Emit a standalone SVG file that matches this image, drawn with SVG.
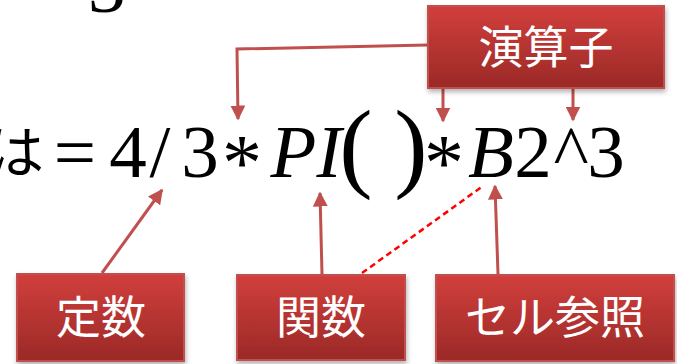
<svg xmlns="http://www.w3.org/2000/svg" width="677" height="364" viewBox="0 0 677 364">
<style>
.f{font-family:'Liberation Serif','Times New Roman',Times,serif;fill:#000;}
.i{font-style:italic;}
.lbl{font-family:'Noto Sans CJK JP','Noto Sans CJK SC',sans-serif;font-size:45px;fill:#fff;text-anchor:middle;}
.box{fill:url(#g);stroke:#c0504d;stroke-width:2;filter:url(#sh);}
.cn{fill:none;stroke:#c0504d;stroke-width:3;}
.dash{fill:none;stroke:#ff0000;stroke-width:2.5;stroke-dasharray:6 4;}
</style>
<defs>
<linearGradient id="g" x1="0" y1="0" x2="0" y2="1">
<stop offset="0" stop-color="#d13f3c"/>
<stop offset="1" stop-color="#9b2927"/>
</linearGradient>
<filter id="sh" x="-10%" y="-10%" width="125%" height="130%">
<feDropShadow dx="1" dy="3" stdDeviation="2.5" flood-color="#000" flood-opacity="0.3"/>
</filter>
<marker id="ah" viewBox="0 0 10 10" refX="9" refY="5" markerWidth="5" markerHeight="5" markerUnits="strokeWidth" orient="auto">
<path d="M0,0 L10,5 L0,10 z" fill="#c0504d"/>
</marker>
</defs>

<g id="formula" font-family="Liberation Serif, Times New Roman, serif">
<text class="f" x="88" y="12" font-size="75">3</text>
<text x="44" y="173" font-size="57" text-anchor="end" font-family="Noto Sans CJK JP, serif" fill="#000">は</text>
<text class="f" x="75" y="177" font-size="75" text-anchor="middle">=</text>
<text class="f" x="128" y="177" font-size="75" text-anchor="middle">4</text>
<text class="f" x="160" y="177" font-size="75" text-anchor="middle">/</text>
<text class="f" x="200" y="177" font-size="75" text-anchor="middle">3</text>
<text class="f" x="242" y="190" font-size="80" text-anchor="middle">*</text>
<text class="f i" x="306" y="177" font-size="75" text-anchor="middle">PI</text>
<text class="f" x="356" y="179" font-size="100" text-anchor="middle">(</text>
<text class="f" x="411" y="179" font-size="100" text-anchor="middle">)</text>
<text class="f" x="444" y="190" font-size="80" text-anchor="middle">*</text>
<text class="f i" x="491" y="177" font-size="75" text-anchor="middle">B</text>
<text class="f" x="533" y="177" font-size="75" text-anchor="middle">2</text>
<text class="f" x="571" y="177" font-size="75" text-anchor="middle">^</text>
<text class="f" x="606" y="177" font-size="75" text-anchor="middle">3</text>
</g>

<g id="connectors">
<polyline class="cn" points="428,45 237,49 238,119" marker-end="url(#ah)"/>
<line class="cn" x1="443" y1="80" x2="443" y2="121" marker-end="url(#ah)"/>
<line class="cn" x1="573" y1="80" x2="573" y2="120" marker-end="url(#ah)"/>
<line class="cn" x1="102" y1="273" x2="162" y2="190" marker-end="url(#ah)"/>
<line class="cn" x1="322" y1="274" x2="320" y2="193" marker-end="url(#ah)"/>
<line class="cn" x1="498" y1="274" x2="495" y2="186" marker-end="url(#ah)"/>
<line class="dash" x1="362" y1="273" x2="483" y2="186"/>
</g>

<g id="node-enzanshi">
<rect class="box" x="428" y="6" width="236" height="82"/>
<text class="lbl" x="546" y="64">演算子</text>
</g>
<g id="node-teisu">
<rect class="box" x="17" y="274" width="167" height="87"/>
<text class="lbl" x="101" y="334">定数</text>
</g>
<g id="node-kansu">
<rect class="box" x="237" y="275" width="168" height="85"/>
<text class="lbl" x="321" y="334">関数</text>
</g>
<g id="node-cellref">
<rect class="box" x="436" y="275" width="238" height="86"/>
<text class="lbl" x="555" y="334">セル参照</text>
</g>
</svg>
